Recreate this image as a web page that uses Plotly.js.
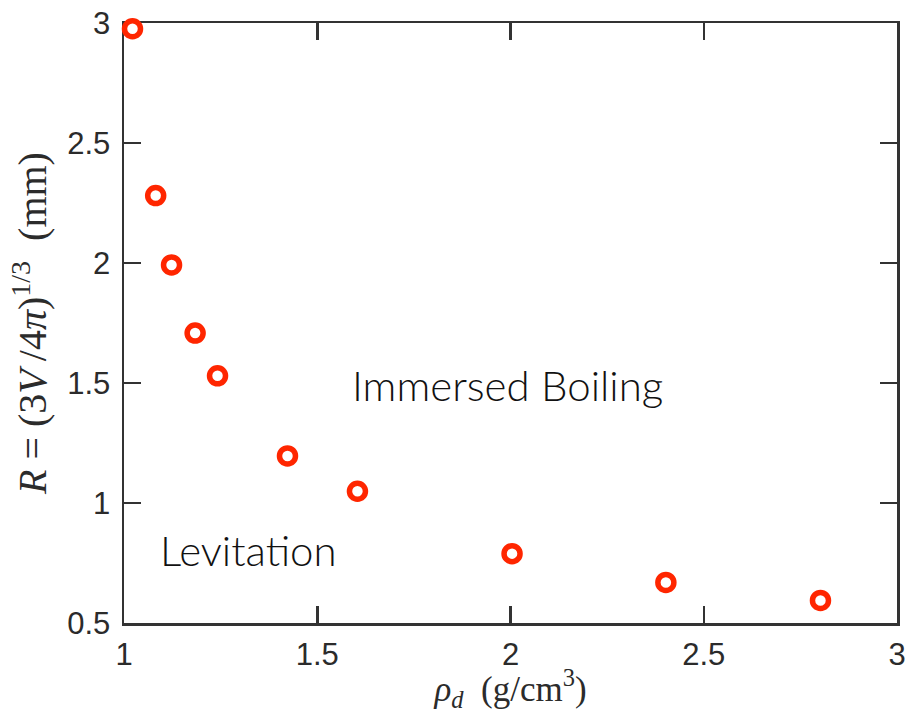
<!DOCTYPE html>
<html>
<head>
<meta charset="utf-8">
<script src="https://cdn.plot.ly/plotly-3.0.1.min.js"></script>
<style>html,body{margin:0;padding:0;background:#fff;}#chart{width:907px;height:713px;}</style>
</head>
<body>
<div id="chart"></div>
<script>
// Droplet density (g/cm^3)
const density = [1.022, 1.082, 1.123, 1.184, 1.242, 1.423, 1.604, 2.004, 2.402, 2.802];
// Equivalent radius R (mm)
const radius = [2.976, 2.281, 1.992, 1.708, 1.530, 1.196, 1.049, 0.789, 0.669, 0.594];
const xTicks = [1, 1.5, 2, 2.5, 3];
const yTicks = [0.5, 1, 1.5, 2, 2.5, 3];
const regionLabels = ['Immersed Boiling', 'Levitation'];
const regionX = [1.991, 1.321];
const regionY = [1.49, 0.805];

const axisColor = '#333333';
const trace = {
  x: density, y: radius, type: 'scatter', mode: 'markers', cliponaxis: false,
  marker: {symbol: 'circle-open', size: 16, color: '#ff2600', line: {width: 5.5, color: '#ff2600'}},
  hoverinfo: 'skip'
};
const common = {
  showline: true, linecolor: axisColor, linewidth: 2.5, mirror: 'ticks',
  ticks: 'inside', ticklen: 17, tickwidth: 2.5, tickcolor: axisColor,
  showgrid: false, zeroline: false, layer: 'below traces',
  tickfont: {family: 'Liberation Sans, Arial, sans-serif', size: 31, color: '#2b2b2b'}
};
const layout = {
  width: 907, height: 713,
  margin: {l: 124, r: 10, t: 23, b: 90},
  paper_bgcolor: '#fff', plot_bgcolor: '#fff', showlegend: false,
  xaxis: Object.assign({}, common, {
    range: [1, 3], tickvals: xTicks, ticktext: xTicks.map(String), ticklabelstandoff: 2,
    title: {text: '<i>ρ<sub>d</sub></i>\u2002(g/cm<sup>3</sup>)', standoff: 12,
            font: {family: 'Liberation Serif, DejaVu Serif, serif', size: 35, color: '#2b2b2b'}}
  }),
  yaxis: Object.assign({}, common, {
    range: [0.5, 3], tickvals: yTicks, ticktext: yTicks.map(String), ticklabelstandoff: 5,
    title: {text: '<i>R</i> = (3<i>V</i>\u2009/4<i>π</i>)<sup>1/3</sup>\u2002(mm)', standoff: 8,
            font: {family: 'Liberation Serif, DejaVu Serif, serif', size: 40, color: '#2b2b2b'}}
  }),
  annotations: regionLabels.map((t, i) => ({
    x: regionX[i], y: regionY[i], xref: 'x', yref: 'y', text: t, showarrow: false,
    xanchor: 'center', yanchor: 'middle',
    font: {family: 'Lato, Open Sans, sans-serif', size: 42, color: '#111111', weight: 300}
  }))
};
Plotly.newPlot('chart', [trace], layout, {displayModeBar: false, staticPlot: true});
</script>
</body>
</html>
